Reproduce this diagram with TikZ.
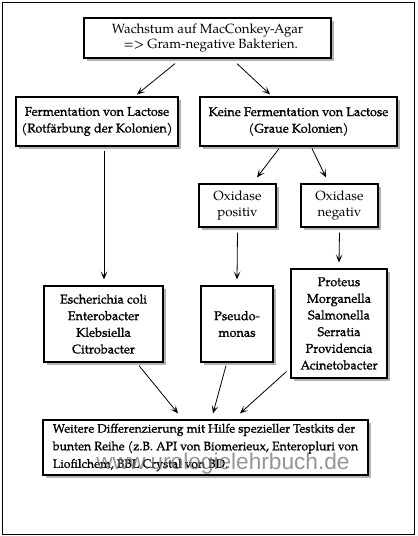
\documentclass[tikz,border=0pt]{standalone}
\usepackage{fontspec}
\setmainfont{TeX Gyre Pagella}
\newfontfamily\halbfett{TeX Gyre Pagella}[FakeBold=1]
\newfontfamily\wmfont{Liberation Sans}
\usepackage{tikz}
\usetikzlibrary{arrows.meta, shadows}
\usetikzlibrary{positioning}

\tikzset{
    kasten/.style={draw, line width=0.9pt, fill=white, align=center, inner sep=2pt,
        drop shadow={shadow xshift=2.2pt, shadow yshift=-2.2pt, fill=black!30, opacity=1},
        font=\fontsize{10}{12.5}\selectfont},
    dick/.style={font=\halbfett\fontsize{9.5}{12.5}\selectfont},
    pfeil/.style={-{Stealth[length=6pt, width=5pt, inset=3pt]}, line width=0.6pt},
}

\begin{document}
\begin{tikzpicture}[x=0.75pt, y=-0.75pt]
    \useasboundingbox (0,0) rectangle (418,536);
    \draw[line width=0.75pt] (2,2) rectangle (414,534);

    \node[kasten, font=\fontsize{10}{11.3}\selectfont, minimum width=247*0.75pt, minimum height=40*0.75pt] (wachstum) at (207.5,38)
        {Wachstum auf MacConkey-Agar\\ \ \ => Gram-negative Bakterien.};
    \node[kasten, dick, minimum width=162*0.75pt, minimum height=49*0.75pt] (ferm) at (97,121.5)
        {Fermentation von Lactose\\(Rotf\"arbung der Kolonien)};
    \node[kasten, dick, minimum width=197*0.75pt, minimum height=49*0.75pt] (keine) at (298.5,121.5)
        {Keine Fermentation von Lactose\\(Graue Kolonien)};
    \node[kasten, minimum width=77*0.75pt, minimum height=43*0.75pt] (oxpos) at (237.5,205.5)
        {Oxidase\\positiv};
    \node[kasten, minimum width=77*0.75pt, minimum height=43*0.75pt] (oxneg) at (339.5,205.5)
        {Oxidase\\negativ};
    \node[kasten, dick, minimum width=119*0.75pt, minimum height=76*0.75pt] (esch) at (103.5,324)
        {Escherichia coli\\Enterobacter\\Klebsiella\\Citrobacter};
    \node[kasten, dick, minimum width=72*0.75pt, minimum height=76*0.75pt] (pseudo) at (237,324)
        {Pseudo-\\monas};
    \node[kasten, dick, minimum width=96*0.75pt, minimum height=109*0.75pt] (proteus) at (339,323.5)
        {Proteus\\Morganella\\Salmonella\\Serratia\\Providencia\\Acinetobacter};
    \node[kasten, dick, font=\halbfett\fontsize{9.2}{13.2}\selectfont, align=left, minimum width=325*0.75pt, minimum height=55*0.75pt] (weitere) at (205.5,447.5)
        {Weitere Differenzierung mit Hilfe spezieller Testkits der\\bunten Reihe (z.B. API von Biomerieux, Enteropluri von\\Liofilchem, BBL Crystal von BD.};

    % watermark
    \node[anchor=base, text=black!55, opacity=0.75, font=\wmfont\fontsize{17}{19}\selectfont] (wz) at (223,469) {www.urologielehrbuch.de};

    \path[pfeil]
    ([shift={(-32.5,5)}]wachstum.south) edge ([shift={(40,-2)}]ferm.north)
    ([shift={(29.5,5)}]wachstum.south) edge ([shift={(-28.5,-2)}]keine.north)
    ([shift={(7,4)}]ferm.south) edge ([shift={(0.5,-6)}]esch.north)
    ([shift={(-19.5,2)}]keine.south) edge ([shift={(19.5,-6)}]oxpos.north)
    ([shift={(13.5,2)}]keine.south) edge ([shift={(-13.5,-6)}]oxneg.north)
    ([shift={(0,5)}]oxpos.south) edge ([shift={(0,-6)}]pseudo.north)
    ([shift={(0,5)}]oxneg.south) edge ([shift={(0,-6)}]proteus.north)
    ;

    \path[pfeil]
    ([shift={(35.5,3)}]esch.south) edge ([shift={(-27.5,-6)}]weitere.north)
    ([shift={(-11,3)}]pseudo.south) edge ([shift={(7.5,-6)}]weitere.north)
    ([shift={(-4,-7)}]proteus.south west) edge ([shift={(34.5,-6)}]weitere.north)
    ;
\end{tikzpicture}
\end{document}
